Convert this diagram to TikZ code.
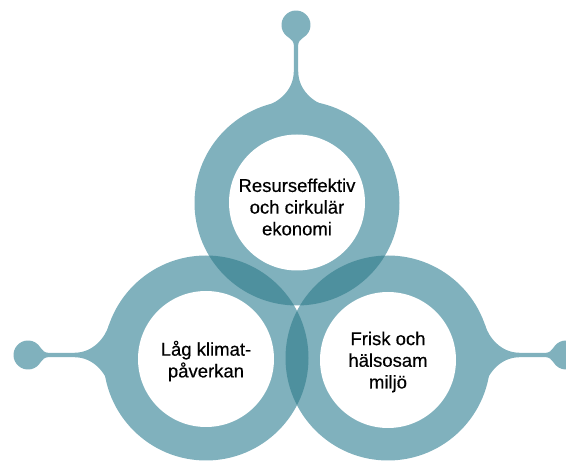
\documentclass[tikz,border=0pt]{standalone}
\usepackage{fontspec}
\setmainfont[FakeBold=0.4]{Liberation Sans}
\definecolor{ringlight}{HTML}{80B1BD}
\definecolor{ringdark}{HTML}{4E909E}
\tikzset{
  ringfill/.style={fill=ringlight, draw=none},
  lensfill/.style={fill=ringdark, draw=none},
  hub/.style={circle, fill=white, draw=none, minimum size=136pt, inner sep=0pt},
  hubtext/.style={font=\fontsize{18.5}{21.7}\selectfont, align=center, text=black, inner sep=0pt},
  stemshape/.pic={
    \fill[ringfill, x=1pt, y=1pt]
      (-30,97) .. controls (-18.5,100.5) and (-2.2,112) .. (-2.2,132)
      -- (-2.2,158) .. controls (-2.2,161) and (-4.65,163.9) .. (-7.25,165.44)
      arc[start angle=240, end angle=-60, radius=14.5]
      .. controls (4.65,163.9) and (2.2,161) .. (2.2,158)
      -- (2.2,132) .. controls (2.2,112) and (18.5,100.5) .. (30,97) -- cycle;
  }
}
\begin{document}
\begin{tikzpicture}[x=1pt, y=-1pt]
\useasboundingbox (0,0) rectangle (566,462);
\coordinate (T) at (297,203);
\coordinate (L) at (206,358);
\coordinate (R) at (388,358);
% rings
\fill[ringfill] (T) circle[radius=102.5];
\fill[ringfill] (L) circle[radius=102.5];
\fill[ringfill] (R) circle[radius=102.5];
% stems
\pic at (296,203) {stemshape};
\pic[rotate=90] at (206,355) {stemshape};
\pic[rotate=-90] at (388,355) {stemshape};
% overlaps
\begin{scope}
  \clip (T) circle[radius=102.5];
  \fill[lensfill] (L) circle[radius=102.5];
  \fill[lensfill] (R) circle[radius=102.5];
\end{scope}
\begin{scope}
  \clip (L) circle[radius=102.5];
  \fill[lensfill] (R) circle[radius=102.5];
\end{scope}
% hubs
\node[hub] (hubT) at (297,202.5) {};
\node[hub] (hubL) at (206,359) {};
\node[hub] (hubR) at (388,360) {};
% texts
\node[hubtext] (txtT) at (297,207) {Resurseffektiv\\och cirkulär\\ekonomi};
\node[hubtext] (txtL) at (206,361) {Låg klimat-\\påverkan};
\node[hubtext] (txtR) at (388,362) {Frisk och\\hälsosam\\miljö};
\end{tikzpicture}
\end{document}
